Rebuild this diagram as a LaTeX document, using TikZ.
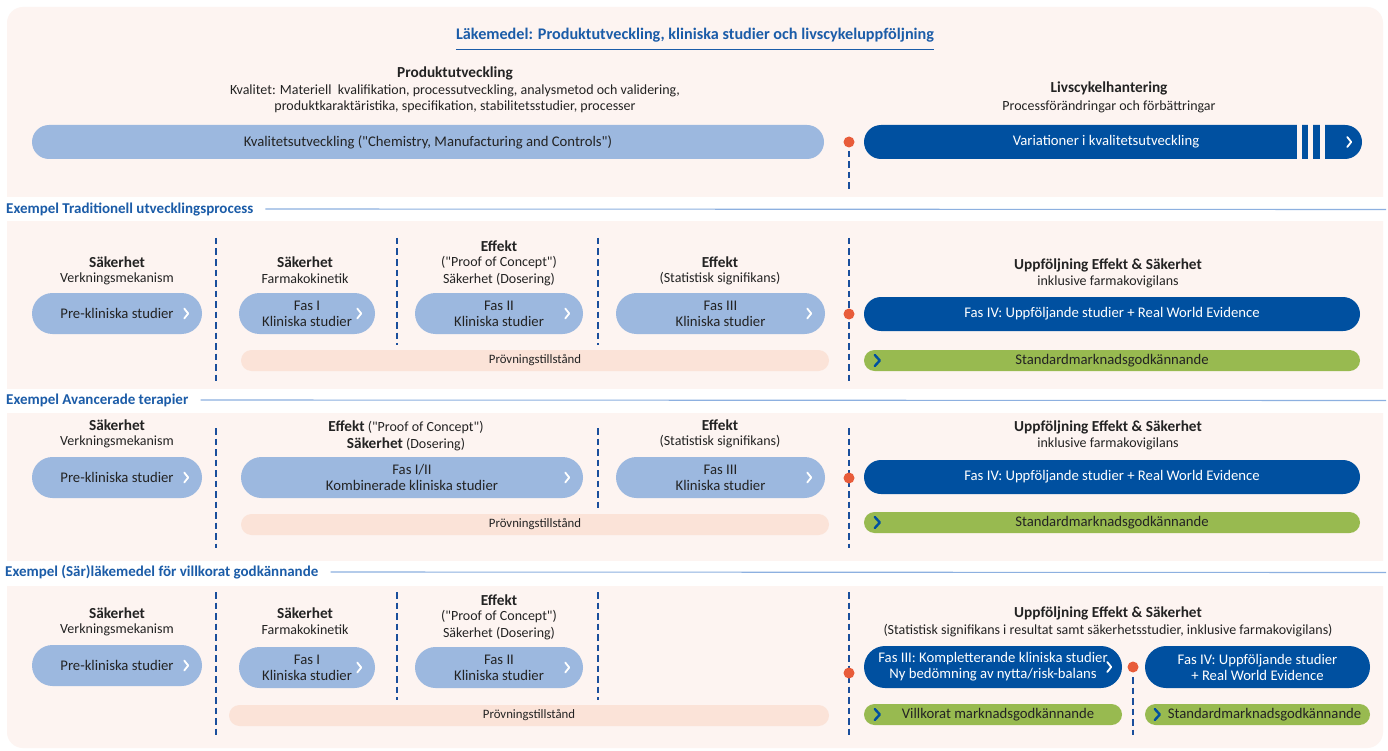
\documentclass[tikz,border=0pt]{standalone}
\usepackage{fontspec}
\setmainfont{Carlito}[Ligatures=TeXOff]
\usetikzlibrary{shapes.misc}
\definecolor{panel}{HTML}{FDF4F1}
\definecolor{lblue}{HTML}{9CB8DF}
\definecolor{dblue}{HTML}{0050A0}
\definecolor{gbar}{HTML}{98BA50}
\definecolor{peach}{HTML}{FBE3D8}
\definecolor{odot}{HTML}{E85C3A}
\definecolor{hblue}{HTML}{1B5CA8}
\definecolor{dashb}{HTML}{1A4F9C}
\definecolor{lineb}{HTML}{8DB0E0}
\definecolor{txt}{HTML}{232323}
\tikzset{
  base/.style={font=\fontsize{14}{16.5}\selectfont, text=txt, inner sep=0pt, align=center},
  pbase/.style={font=\fontsize{14.7}{16}\selectfont, text=txt, inner sep=0pt, align=center},
  bld/.style={base, font=\fontsize{15.3}{16.5}\selectfont\bfseries},
  hdr/.style={font=\fontsize{15}{16}\selectfont\bfseries, text=hblue, inner sep=0pt, anchor=west},
  hline/.style={draw=lineb, line width=1.1pt},
  lpill/.style={pbase, rounded rectangle, fill=lblue, minimum height=41pt},
  dpill/.style={pbase, rounded rectangle, fill=dblue, text=white, minimum height=34pt},
  gpill/.style={pbase, rounded rectangle, fill=gbar, minimum height=21pt},
  ppill/.style={pbase, rounded rectangle, fill=peach, minimum height=21pt, font=\fontsize{12.8}{14}\selectfont},
  odotst/.style={circle, fill=odot, minimum size=11pt, inner sep=0pt},
  vdash/.style={draw=dashb, line width=1.8pt, dash pattern=on 6.5pt off 4pt},
  chw/.style={draw=white, line width=1.8pt, line cap=round, line join=round},
  chb/.style={draw=dblue, line width=2.4pt, line cap=round, line join=round}
}
\newcommand{\chevR}[1]{\draw[chw] ([shift={(-18,-5)}]#1.east) -- ([shift={(-14,0)}]#1.east) -- ([shift={(-18,5)}]#1.east);}
\newcommand{\chevL}[1]{\draw[chb] ([shift={(11,-5.5)}]#1.west) -- ([shift={(16,0)}]#1.west) -- ([shift={(11,5.5)}]#1.west);}
\begin{document}
\begin{tikzpicture}[x=1pt,y=-1pt]
\useasboundingbox (0,0) rectangle (1388,751);
\fill[white] (0,0) rectangle (1388,751);
\fill[panel, rounded corners=16pt] (7,7) rectangle (1383,748);
\fill[white] (0,197) rectangle (1388,221);
\fill[white] (0,389) rectangle (1388,413);
\fill[white] (0,561) rectangle (1388,586);

% ---------- top ----------
\node[bld, text=hblue, font=\fontsize{16.2}{17}\selectfont\bfseries] (title) at (695,35) {Läkemedel: Produktutveckling, kliniska studier och livscykeluppföljning};
\draw[hblue, line width=1.5pt] ([yshift=-7]title.south west) -- ([yshift=-7]title.south east);
\node[bld] (pu) at (455,73) {Produktutveckling};
\node[base] (pu2) at (455,99) {Kvalitet: Materiell\ \ kvalifikation, processutveckling, analysmetod och validering,\\produktkaraktäristika, specifikation, stabilitetsstudier, processer};
\node[lpill, minimum width=792pt, minimum height=34pt] (kv) at (428,142) {Kvalitetsutveckling ("Chemistry, Manufacturing and Controls")};
\node[bld] (lc) at (1109,88) {Livscykelhantering};
\node[base] (lc2) at (1109,107) {Processförändringar och förbättringar};
\node[dpill, minimum width=498pt] (var) at (1113,142) {};
\fill[panel] (1297,124) rectangle (1302,161);
\fill[panel] (1308,124) rectangle (1313,161);
\fill[panel] (1320,124) rectangle (1325,161);
\node[pbase, text=white] (vart) at (1106,142) {Variationer i kvalitetsutveckling};
\draw[chw] ([shift={(-15,-5)}]var.east) -- ([shift={(-11,0)}]var.east) -- ([shift={(-15,5)}]var.east);
\node[odotst] (d0) at (849,142) {};
\draw[vdash] (849,151) -- (849,190);

% ---------- section 1 ----------
\node[hdr] (h1) at (6,209) {Exempel Traditionell utvecklingsprocess};
\draw[hline] ([xshift=12]h1.east) -- (1386,209.5);
\draw[vdash] (216,238) -- (216,382);
\draw[vdash] (397,238) -- (397,345);
\draw[vdash] (598,238) -- (598,345);
\draw[vdash] (849,238) -- (849,382);

\node[bld] at (117,262) {Säkerhet};
\node[base] at (117,279) {Verkningsmekanism};
\node[bld] at (305,262) {Säkerhet};
\node[base] at (305,279) {Farmakokinetik};
\node[bld] at (499,246) {Effekt};
\node[base] at (499,263) {("Proof of Concept")};
\node[base] at (499,280) {Säkerhet (Dosering)};
\node[bld] at (720,262) {Effekt};
\node[base] at (720,279) {(Statistisk signifikans)};
\node[bld] at (1108,265) {Uppföljning Effekt \& Säkerhet};
\node[base] at (1108,282) {inklusive farmakovigilans};

\node[lpill, minimum width=170pt] (pre1) at (117,313.5) {Pre-kliniska studier};
\node[lpill, minimum width=136pt] (fa1) at (307,313.5) {Fas I\\Kliniska studier};
\node[lpill, minimum width=168pt] (fa2) at (499,313.5) {Fas II\\Kliniska studier};
\node[lpill, minimum width=209pt] (fa3) at (720.5,313.5) {Fas III\\Kliniska studier};
\chevR{pre1} \chevR{fa1} \chevR{fa2} \chevR{fa3}
\node[odotst] (d1) at (849,314) {};
\node[dpill, minimum width=496pt] (fa4) at (1112,314) {Fas IV: Uppföljande studier + Real World Evidence};
\node[gpill, minimum width=496pt] (g1) at (1112,360.5) {Standardmarknadsgodkännande};
\chevL{g1}
\node[ppill, minimum width=588pt] (p1) at (535,360.5) {Prövningstillstånd};

% ---------- section 2 ----------
\node[hdr] (h2) at (6,400) {Exempel Avancerade terapier};
\draw[hline] ([xshift=12]h2.east) -- (1386,400.5);
\draw[vdash] (216,428) -- (216,548);
\draw[vdash] (598,428) -- (598,508);
\draw[vdash] (849,428) -- (849,548);

\node[bld] at (117,425) {Säkerhet};
\node[base] at (117,442) {Verkningsmekanism};
\node[base] at (406,427) {\textbf{\fontsize{15.3}{16}\selectfont Effekt} ("Proof of Concept")};
\node[base] at (406,444) {\textbf{\fontsize{15.3}{16}\selectfont Säkerhet} (Dosering)};
\node[bld] at (720,425) {Effekt};
\node[base] at (720,442) {(Statistisk signifikans)};
\node[bld] at (1108,427) {Uppföljning Effekt \& Säkerhet};
\node[base] at (1108,444) {inklusive farmakovigilans};

\node[lpill, minimum width=170pt] (pre2) at (117,477.5) {Pre-kliniska studier};
\node[lpill, minimum width=342pt] (fa12) at (412,477.5) {Fas I/II\\Kombinerade kliniska studier};
\node[lpill, minimum width=209pt] (fa3b) at (720.5,477.5) {Fas III\\Kliniska studier};
\chevR{pre2} \chevR{fa12} \chevR{fa3b}
\node[odotst] (d2) at (849,478) {};
\node[dpill, minimum width=496pt] (fa4b) at (1112,477) {Fas IV: Uppföljande studier + Real World Evidence};
\node[gpill, minimum width=496pt] (g2) at (1112,522.5) {Standardmarknadsgodkännande};
\chevL{g2}
\node[ppill, minimum width=588pt] (p2) at (535,524.5) {Prövningstillstånd};

% ---------- section 3 ----------
\node[hdr] (h3) at (5,572) {Exempel (Sär)läkemedel för villkorat godkännande};
\draw[hline] ([xshift=12]h3.east) -- (1386,572.5);
\draw[vdash] (216,592) -- (216,735);
\draw[vdash] (397,592) -- (397,700);
\draw[vdash] (598,592) -- (598,700);
\draw[vdash] (849,592) -- (849,735);
\draw[vdash] (1133,677) -- (1133,735);

\node[bld] at (117,613) {Säkerhet};
\node[base] at (117,630) {Verkningsmekanism};
\node[bld] at (305,613) {Säkerhet};
\node[base] at (305,630) {Farmakokinetik};
\node[bld] at (499,600) {Effekt};
\node[base] at (499,617) {("Proof of Concept")};
\node[base] at (499,634) {Säkerhet (Dosering)};
\node[bld] at (1108,613) {Uppföljning Effekt \& Säkerhet};
\node[base] at (1108,631) {(Statistisk signifikans i resultat samt säkerhetsstudier, inklusive farmakovigilans)};

\node[lpill, minimum width=170pt] (pre3) at (117,665.5) {Pre-kliniska studier};
\node[lpill, minimum width=136pt] (fa1c) at (307,667.5) {Fas I\\Kliniska studier};
\node[lpill, minimum width=168pt] (fa2c) at (499,667.5) {Fas II\\Kliniska studier};
\chevR{pre3} \chevR{fa1c} \chevR{fa2c}
\node[ppill, minimum width=600pt] (p3) at (529,715.5) {Prövningstillstånd};
\node[odotst] (d3) at (849,673) {};
\node[dpill, minimum width=258pt, minimum height=42pt] (fa3d) at (993,667) {Fas III: Kompletterande kliniska studier\\Ny bedömning av nytta/risk-balans};
\draw[chw] ([shift={(-15,-5)}]fa3d.east) -- ([shift={(-11,0)}]fa3d.east) -- ([shift={(-15,5)}]fa3d.east);
\node[odotst] (d4) at (1133,667) {};
\node[dpill, minimum width=225pt, minimum height=42pt] (fa4d) at (1257.5,667) {Fas IV: Uppföljande studier\\+ Real World Evidence};
\node[gpill, minimum width=258pt] (gA) at (993,714.5) {\hspace*{10pt}Villkorat marknadsgodkännande};
\chevL{gA}
\node[gpill, minimum width=225pt] (gB) at (1257.5,714.5) {\hspace*{14pt}Standardmarknadsgodkännande};
\draw[chb] ([shift={(10,-5.5)}]gB.west) -- ([shift={(15,0)}]gB.west) -- ([shift={(10,5.5)}]gB.west);
\end{tikzpicture}
\end{document}
